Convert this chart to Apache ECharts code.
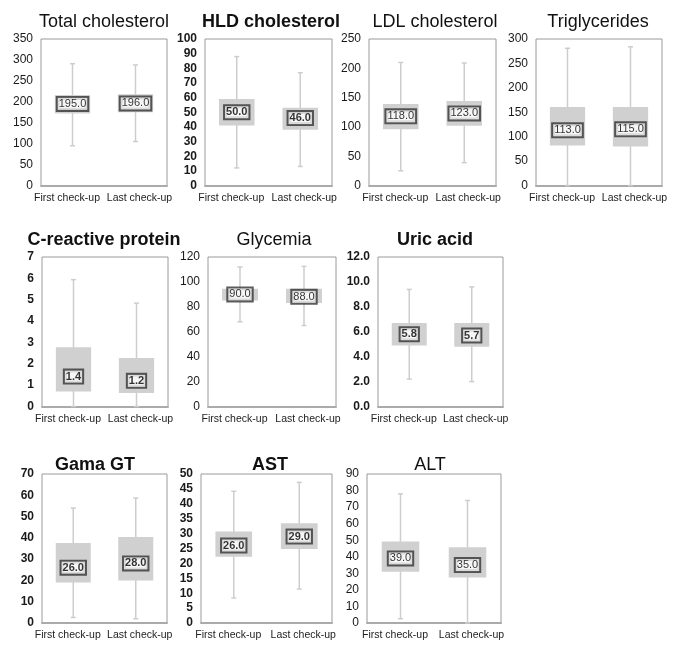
<!DOCTYPE html>
<html><head><meta charset="utf-8">
<script src="https://cdn.jsdelivr.net/npm/echarts@6/dist/echarts.min.js"></script>
<style>html,body{margin:0;padding:0;background:#fff}#c{width:683px;height:645px}</style>
</head><body><div id="c"></div>
<script>
// ---- data ----
const categories = ['First check-up', 'Last check-up'];
const titles = ['Total cholesterol','HLD cholesterol','LDL cholesterol','Triglycerides','C-reactive protein','Glycemia','Uric acid','Gama GT','AST','ALT'];
const boldTitle = [false,true,false,false,true,false,true,true,true,false];
// each: [min, Q1, median, Q3, max] for First / Last check-up
const totalCholesterol = [[95,172,195,216,291],[105,175,196,218,288]];
const hdlCholesterol   = [[12,41,50,59,88],[13,38,46,53,77]];
const ldlCholesterol   = [[25,96,118,139,210],[39,102,123,144,209]];
const triglycerides    = [[0,82,113,161,281],[0,80,115,161,284]];
const cReactiveProtein = [[0,0.7,1.4,2.78,5.94],[0,0.63,1.2,2.27,4.84]];
const glycemia         = [[68,85,90,94.5,112],[65,83,88,94.5,112.5]];
const uricAcid         = [[2.2,4.9,5.8,6.7,9.4],[2.0,4.8,5.7,6.7,9.6]];
const gamaGT           = [[2.6,19,26,37.6,54],[2.0,20,28,40.4,58.7]];
const ast              = [[8.4,22.2,26,30.7,44.2],[11.4,24.8,29,33.5,47.2]];
const alt              = [[2.6,31,39,49.3,78],[0,27.5,35,45.7,74]];
const panelData = [totalCholesterol,hdlCholesterol,ldlCholesterol,triglycerides,cReactiveProtein,glycemia,uricAcid,gamaGT,ast,alt];
const yMax      = [350,100,250,300,7,120,12,70,50,90];
const yInterval = [50,10,50,50,1,20,2,10,5,10];
const yDecimals = [0,0,0,0,0,0,1,0,0,0];

// ---- layout (plot boxes: left, right, top, bottom) ----
const boxes = [
  [41,167,39,185.5],[205,332,39,185.5],[369,496,39,185.5],[536,662,39,185.5],
  [42,168,257,406.5],[208,336,257,406.5],[378,503,257,406.5],
  [42,167,474,623],[201,332,474,623],[367,501,474,623]
];
const titlePos = [[99,8],[266,8],[430,8],[593,8],[99,226],[269,226],[430,226],[90,451],[265,451],[425,451]];

const BOX = '#d0d0d0', WHISK = '#cdcdcd', FONT = '"Liberation Sans", Arial, sans-serif';
const W = 683, H = 645;

function renderBox(params, api){
  const x = api.value(0);
  const lo = api.coord([x, api.value(1)]);
  const q1 = api.coord([x, api.value(2)]);
  const q3 = api.coord([x, api.value(4)]);
  const hi = api.coord([x, api.value(5)]);
  const bw = api.size([1,0])[0]*0.56;
  const cx = lo[0];
  const ls = {stroke: WHISK, lineWidth: 1.5};
  return {type:'group', children:[
    {type:'line', shape:{x1:cx,y1:lo[1],x2:cx,y2:hi[1]}, style:ls},
    {type:'line', shape:{x1:cx-2.5,y1:hi[1],x2:cx+2.5,y2:hi[1]}, style:ls},
    {type:'line', shape:{x1:cx-2.5,y1:lo[1],x2:cx+2.5,y2:lo[1]}, style:ls},
    {type:'rect', shape:{x:cx-bw/2, y:q3[1], width:bw, height:q1[1]-q3[1]}, style:{fill:BOX}}
  ]};
}

const grid=[], xAxis=[], yAxis=[], series=[], title=[];
panelData.forEach((d,i)=>{
  const b = boxes[i];
  const bold = boldTitle[i];
  grid.push({left:b[0], top:b[2], width:b[1]-b[0], height:b[3]-b[2], show:true, borderColor:'#9a9a9a', borderWidth:1, containLabel:false});
  title.push({text:titles[i], left:titlePos[i][0], top:titlePos[i][1], textAlign:'center',
    textStyle:{fontFamily:FONT, fontSize:18, fontWeight: bold?'bold':'normal', color:'#111'}});
  xAxis.push({type:'category', gridIndex:i, data:categories, boundaryGap:true,
    axisLine:{show:true, lineStyle:{color:'#aaaaaa', width:2}}, axisTick:{show:false},
    axisLabel:{interval:0, hideOverlap:false, margin:7, fontFamily:FONT, fontSize:10.5, color:'#222',
      formatter:(v,idx)=> idx===0 ? '{a|'+v+'}' : '{b|'+v+'}',
      rich:{a:{padding:[0,11,0,0], fontFamily:FONT, fontSize:10.5, color:'#222'}, b:{padding:[0,0,0,8], fontFamily:FONT, fontSize:10.5, color:'#222'}}},
    splitLine:{show:false}});
  yAxis.push({type:'value', gridIndex:i, min:0, max:yMax[i], interval:yInterval[i],
    axisLine:{show:false}, axisTick:{show:false}, splitLine:{show:false},
    axisLabel:{margin:8, fontFamily:FONT, fontSize:12, color:'#1a1a1a', fontWeight: bold?'bold':'normal',
      formatter:v=>v.toFixed(yDecimals[i])}});
  series.push({type:'custom', xAxisIndex:i, yAxisIndex:i, renderItem:renderBox, silent:true,
    encode:{x:0, y:[1,2,3,4,5]},
    data: d.map((r,k)=>[k, r[0], r[1], r[2], r[3], r[4]]), z:2});
  series.push({type:'scatter', xAxisIndex:i, yAxisIndex:i, symbol:'rect', symbolSize:1, silent:true,
    itemStyle:{color:'rgba(0,0,0,0)'}, z:5,
    data: d.map((r,k)=>[k, r[2]]),
    label:{show:true, position:'inside', formatter:p=>p.value[1].toFixed(1),
      fontFamily:FONT, fontSize:11, fontWeight: bold?'bold':'normal', color:'#000',
      backgroundColor:'#fff', borderColor:'#333', borderWidth:2, padding:[1,1,0,1]}});
});

const chart = echarts.init(document.getElementById('c'), null, {renderer:'canvas', width:W, height:H});
chart.setOption({animation:false, backgroundColor:'#fff', title, grid, xAxis, yAxis, series});
</script></body></html>
